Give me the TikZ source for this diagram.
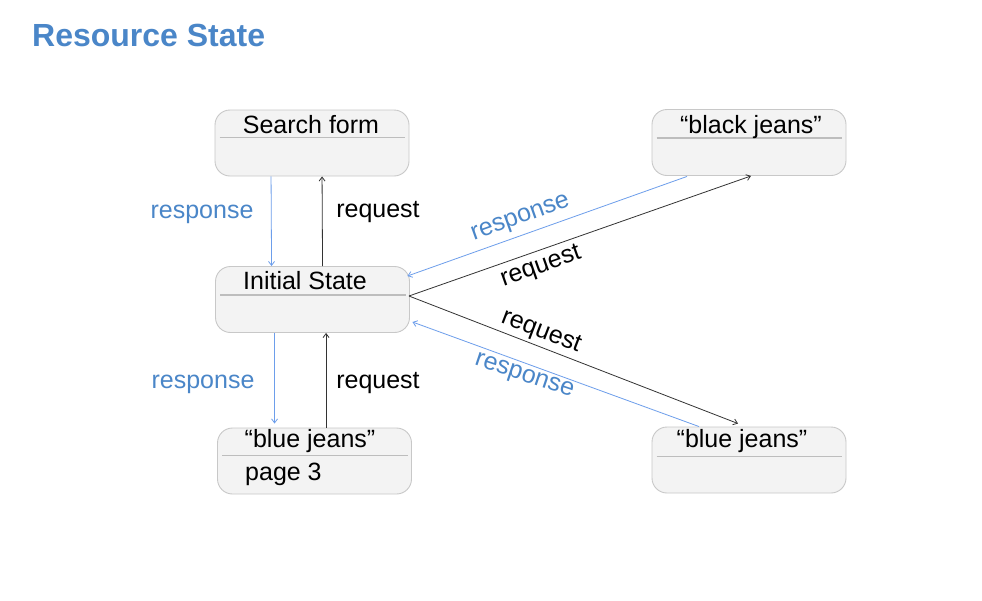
\documentclass[tikz,border=0pt]{standalone}
\usepackage{fontspec}
\setmainfont{Liberation Sans}
\usetikzlibrary{arrows.meta,calc}
\definecolor{titleblue}{HTML}{4A86C8}
\definecolor{lineblue}{HTML}{6D9EEB}
\definecolor{boxfill}{HTML}{F3F3F3}
\definecolor{boxline}{HTML}{C8C8C8}
\definecolor{divline}{HTML}{BDBDBD}
\definecolor{reqline}{HTML}{333333}
\tikzset{
  statebox/.style={draw=boxline, fill=boxfill, line width=0.9pt, rounded corners=15pt,
    minimum width=194pt, minimum height=66pt, inner sep=0pt},
  divider/.style={draw=divline, line width=1.5pt},
  boxtext/.style={font=\fontsize{25}{30}\selectfont, text=black, inner sep=0pt, anchor=base},
  lbl/.style={font=\fontsize{25}{30}\selectfont, inner sep=0pt},
  resplbl/.style={lbl, text=titleblue},
  reqlbl/.style={lbl, text=black},
  tip/.style={-{Straight Barb[length=4pt,width=6pt]}},
  respline/.style={tip, draw=lineblue, line width=0.8pt},
  reqline/.style={tip, draw=reqline, line width=0.8pt},
}
\begin{document}
\begin{tikzpicture}[x=1pt,y=-1pt]
\useasboundingbox (0,0) rectangle (982,600);
\fill[white] (0,0) rectangle (982,600);

\node[font=\bfseries\fontsize{32}{38}\selectfont, text=titleblue, anchor=base west, inner sep=0pt] (title) at (32,46) {Resource State};

% boxes
\node[statebox] (search) at (312,143) {};
\node[statebox] (init) at (312.5,299.5) {};
\node[statebox] (page) at (314.5,461) {};
\node[statebox] (black) at (749,142.5) {};
\node[statebox] (blue) at (749,460) {};

% dividers
\draw[divider] ($(search.north west)+(5,28)$) -- ($(search.north east)+(-4,28)$);
\draw[divider] ($(init.north west)+(5,29)$) -- ($(init.north east)+(-4,29)$);
\draw[divider] ($(page.north west)+(5,28)$) -- ($(page.north east)+(-4,28)$);
\draw[divider] ($(black.north west)+(5,29)$) -- ($(black.north east)+(-4,29)$);
\draw[divider] ($(blue.north west)+(5,30)$) -- ($(blue.north east)+(-4,30)$);

% box texts
\node[boxtext] (searcht) at (311,133) {Search form};
\node[boxtext] (initt) at (305,289) {Initial State};
\node[boxtext] (paget) at (310,447) {“blue jeans”};
\node[boxtext, anchor=base west] (paget2) at (245,480) {page 3};
\node[boxtext] (blackt) at (751,133) {“black jeans”};
\node[boxtext] (bluet) at (742,447) {“blue jeans”};

% vertical connectors
\draw[respline] ($(search.south west)+(56.5,0)$) -- ($(init.north west)+(56.5,0)$);
\draw[reqline] ($(init.north west)+(107.5,0)$) -- ($(search.south west)+(107.5,0)$);
\draw[respline] ($(init.south west)+(59.5,0)$) -- ($(page.north west)+(57.5,-4)$);
\draw[reqline] ($(page.north west)+(109,0)$) -- ($(init.south west)+(111,0)$);

% diagonal connectors
\draw[reqline] ($(init.east)+(-1,-3.5)$) -- ($(black.south)+(2,0)$);
\draw[respline] ($(black.south)+(-62,0.5)$) -- ($(init.east)+(-2.5,-23.5)$);
\draw[reqline] ($(init.east)+(-1,-3.5)$) -- ($(blue.north)+(-11,-3)$);
\draw[respline] ($(blue.north)+(-50,0)$) -- ($(init.east)+(2.5,22.5)$);

% labels
\node[resplbl] (l1) at (202,214) {response};
\node[reqlbl] (l2) at (378,212) {request};
\node[resplbl] (l3) at (203,384) {response};
\node[reqlbl] (l4) at (378,383) {request};
\node[resplbl, rotate=19.6] (l5) at (521,219) {response};
\node[reqlbl, rotate=19.4] (l6) at (541,267) {request};
\node[reqlbl, rotate=-21] (l7) at (541,332) {request};
\node[resplbl, rotate=-18.5] (l8) at (524,377) {response};
\end{tikzpicture}
\end{document}
